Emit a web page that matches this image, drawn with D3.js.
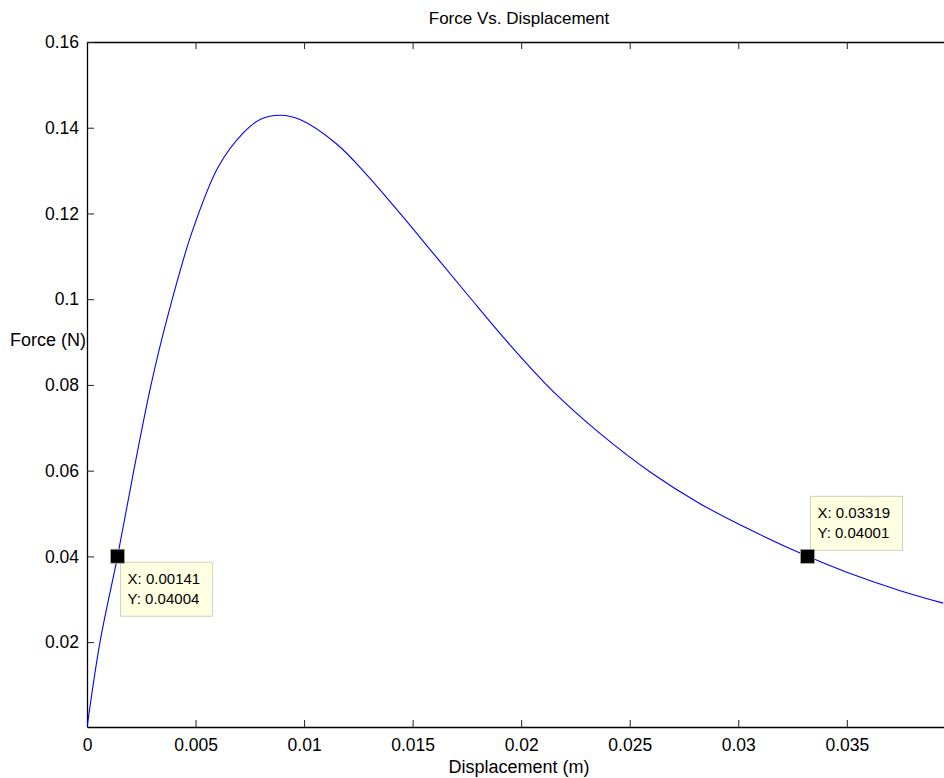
<!DOCTYPE html>
<html>
<head>
<meta charset="utf-8">
<script src="https://cdn.jsdelivr.net/npm/d3@7"></script>
<style>
  html, body { margin: 0; padding: 0; background: #fff; }
  svg { display: block; font-family: "Liberation Sans", Arial, sans-serif; }
</style>
</head>
<body>
<svg id="chart" width="944" height="778"></svg>
<script>
// Measured force curve (displacement in m, force in N)
const displacement = [0, 0.000599, 0.00141, 0.00215, 0.00295, 0.00367, 0.00482, 0.00605, 0.00720, 0.00800,
  0.00892, 0.00981, 0.01150, 0.01289, 0.01442, 0.01595, 0.01757, 0.01949, 0.02141,
  0.02363, 0.02594, 0.02824, 0.03055, 0.03319, 0.03500, 0.03746, 0.03944];
const force = [0, 0.0200, 0.04004, 0.0599, 0.0800, 0.0951, 0.1154, 0.1309, 0.1388, 0.1420,
  0.1429, 0.1419, 0.1362, 0.1290, 0.1200, 0.1107, 0.1008, 0.0893, 0.0788,
  0.0687, 0.0597, 0.0523, 0.0462, 0.04001, 0.0363, 0.0320, 0.0291];

// Data tips
const tipX = [0.00141, 0.03319];
const tipY = [0.04004, 0.04001];
const tipText = [["X: 0.00141", "Y: 0.04004"], ["X: 0.03319", "Y: 0.04001"]];
const tipPlacement = ["below-right", "above-right"];

// Axis ticks
const xTicks = [0, 0.005, 0.01, 0.015, 0.02, 0.025, 0.03, 0.035];
const xTickLabels = ["0", "0.005", "0.01", "0.015", "0.02", "0.025", "0.03", "0.035"];
const yTicks = [0.02, 0.04, 0.06, 0.08, 0.1, 0.12, 0.14, 0.16];
const yTickLabels = ["0.02", "0.04", "0.06", "0.08", "0.1", "0.12", "0.14", "0.16"];

const svg = d3.select("#chart");
const plotLeft = 87, plotTop = 42, plotBottom = 727, plotRight = 951;

const x = d3.scaleLinear().domain([0, 0.0398]).range([plotLeft, plotRight]);
const y = d3.scaleLinear().domain([0.0002, 0.16]).range([plotBottom, plotTop]);

svg.append("defs").append("clipPath").attr("id", "plotclip")
  .append("rect").attr("x", plotLeft).attr("y", plotTop)
  .attr("width", plotRight - plotLeft).attr("height", plotBottom - plotTop);

// Axes (ticks pointing inward, boxed frame)
const tickLen = 7;
const xAxisB = d3.axisBottom(x).tickValues(xTicks).tickFormat((d, i) => xTickLabels[i]).tickSizeInner(-tickLen).tickSizeOuter(0).tickPadding(12);
const xAxisT = d3.axisTop(x).tickValues(xTicks).tickFormat("").tickSizeInner(-tickLen).tickSizeOuter(0);
const yAxisL = d3.axisLeft(y).tickValues(yTicks).tickFormat((d, i) => yTickLabels[i]).tickSizeInner(-tickLen).tickSizeOuter(0).tickPadding(8);

function styleAxis(g) {
  g.select(".domain").attr("stroke", "#000").attr("stroke-width", 1.3);
  g.selectAll(".tick line").attr("stroke", "#222").attr("stroke-width", 1);
  g.selectAll(".tick text").attr("fill", "#000").style("font-size", "17.5px").style("font-family", "Liberation Sans, Arial, sans-serif");
}
svg.append("g").attr("transform", `translate(0,${plotBottom})`).call(xAxisB).call(styleAxis);
svg.append("g").attr("transform", `translate(0,${plotTop})`).call(xAxisT).call(styleAxis);
svg.append("g").attr("transform", `translate(${plotLeft},0)`).call(yAxisL).call(styleAxis);
svg.append("line").attr("x1", plotRight).attr("x2", plotRight).attr("y1", plotTop).attr("y2", plotBottom).attr("stroke", "#000");

// Curve
const pts = displacement.map((d, i) => [d, force[i]]);
const line = d3.line().x(d => x(d[0])).y(d => y(d[1])).curve(d3.curveCatmullRom.alpha(0.5));
svg.append("path").datum(pts).attr("clip-path", "url(#plotclip)")
  .attr("d", line).attr("fill", "none").attr("stroke", "#0000ff").attr("stroke-width", 1.1);

// Data tip markers and boxes
const boxW = 92, boxH = 54;
tipX.forEach((tx, i) => {
  const px = x(tx), py = y(tipY[i]);
  const bx = px + 3;
  const by = tipPlacement[i] === "below-right" ? py + 6 : py - 6 - boxH;
  svg.append("rect").attr("x", bx).attr("y", by).attr("width", boxW).attr("height", boxH)
    .attr("fill", "#ffffe1").attr("stroke", "#d0d0c0").attr("stroke-width", 1);
  tipText[i].forEach((t, j) => {
    svg.append("text").attr("x", bx + 7).attr("y", by + 22 + j * 20)
      .style("font-size", "15px").attr("fill", "#000").text(t);
  });
  svg.append("rect").attr("x", px - 7).attr("y", py - 7).attr("width", 14).attr("height", 14)
    .attr("fill", "#000").attr("stroke", "#b0ad90").attr("stroke-width", 0.8);
});

// Titles
svg.append("text").attr("x", 519).attr("y", 24).attr("text-anchor", "middle")
  .style("font-size", "17px").text("Force Vs. Displacement");
svg.append("text").attr("x", 519).attr("y", 773).attr("text-anchor", "middle")
  .style("font-size", "18px").text("Displacement (m)");
svg.append("text").attr("x", 10).attr("y", 346)
  .style("font-size", "18px").text("Force (N)");
</script>
</body>
</html>
